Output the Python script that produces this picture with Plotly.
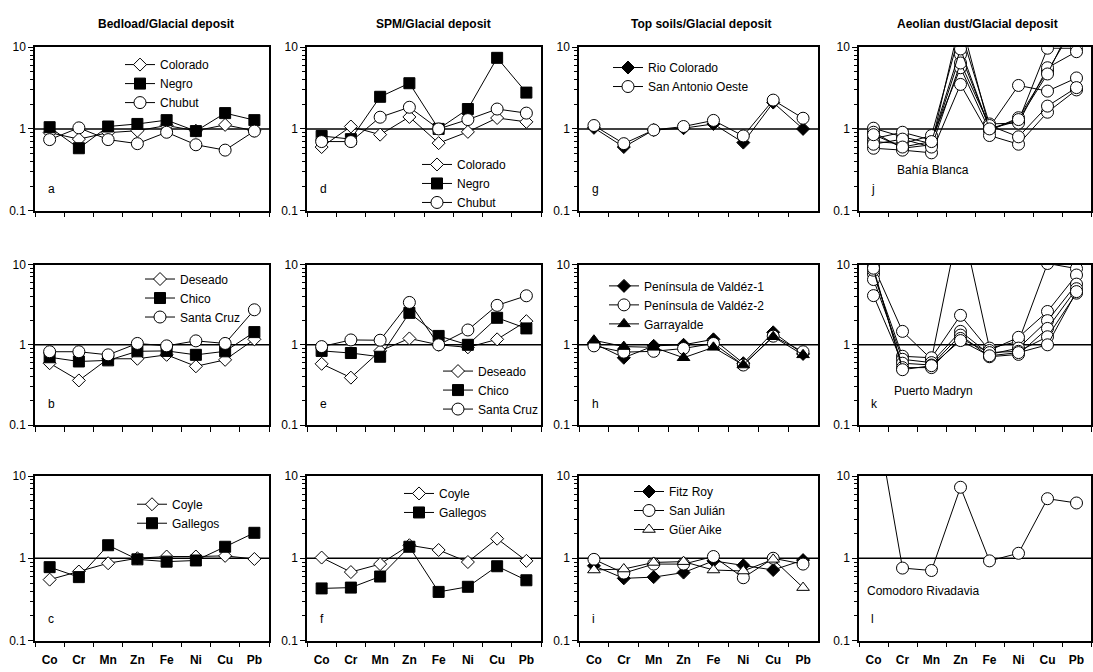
import plotly.graph_objects as go

W, H = 1093, 672
FONT = "Liberation Sans, Arial, sans-serif"

elements = ["Co", "Cr", "Mn", "Zn", "Fe", "Ni", "Cu", "Pb"]

# Bedload / glacial deposit
bed_colorado = [0.90, 0.75, 0.90, 0.95, 1.10, 0.95, 1.12, 0.95]
bed_negro = [1.05, 0.58, 1.07, 1.15, 1.28, 0.94, 1.56, 1.28]
bed_chubut = [0.74, 1.03, 0.74, 0.66, 0.91, 0.64, 0.55, 0.94]
bed_deseado = [0.59, 0.36, 0.67, 0.67, 0.75, 0.54, 0.65, 1.17]
bed_chico = [0.70, 0.62, 0.64, 0.83, 0.84, 0.75, 0.83, 1.44]
bed_santacruz = [0.82, 0.82, 0.75, 1.04, 0.97, 1.12, 1.04, 2.73]
bed_coyle = [0.55, 0.69, 0.87, 1.00, 1.05, 1.05, 1.07, 0.98]
bed_gallegos = [0.78, 0.59, 1.44, 0.97, 0.91, 0.94, 1.38, 2.04]

# SPM / glacial deposit
spm_colorado = [0.60, 1.07, 0.85, 1.40, 0.67, 0.92, 1.36, 1.22]
spm_negro = [0.82, 0.75, 2.47, 3.62, 1.00, 1.75, 7.40, 2.78]
spm_chubut = [0.70, 0.70, 1.39, 1.84, 1.00, 1.30, 1.75, 1.56]
spm_deseado = [0.58, 0.39, 0.84, 1.20, 1.00, 0.93, 1.17, 1.97]
spm_chico = [0.84, 0.79, 0.71, 2.50, 1.29, 1.00, 2.17, 1.60]
spm_santacruz = [0.95, 1.15, 1.14, 3.37, 1.00, 1.53, 3.10, 4.08]
spm_coyle = [1.02, 0.68, 0.85, 1.44, 1.26, 0.90, 1.73, 0.93]
spm_gallegos = [0.43, 0.44, 0.60, 1.38, 0.39, 0.45, 0.80, 0.54]

# Top soils / glacial deposit
soil_riocolorado = [1.03, 0.60, 0.97, 1.02, 1.15, 0.68, 2.10, 1.00]
soil_sanantonio = [1.10, 0.66, 0.97, 1.07, 1.27, 0.82, 2.25, 1.35]
soil_valdez1 = [1.04, 0.69, 0.97, 1.00, 1.17, 0.59, 1.43, 0.77]
soil_valdez2 = [0.97, 0.81, 0.83, 0.90, 1.04, 0.56, 1.28, 0.82]
soil_garrayalde = [1.14, 0.95, 0.93, 0.69, 0.93, 0.56, 1.26, 0.75]
soil_fitzroy = [0.81, 0.57, 0.59, 0.67, 0.93, 0.82, 0.72, 0.95]
soil_sanjulian = [0.97, 0.66, 0.85, 0.85, 1.05, 0.58, 1.00, 0.85]
soil_gueraike = [0.72, 0.74, 0.89, 0.91, 0.72, 0.70, 0.97, 0.44]

# Aeolian dust / glacial deposit (one list per dust sample)
bahia_blanca = [
    [1.02, 0.80, 0.66, 8.1, 1.05, 3.4, 2.9, 4.2],
    [0.91, 0.58, 0.64, 22.0, 1.00, 1.25, 9.7, 9.7],
    [0.76, 0.91, 0.73, 5.6, 0.95, 1.37, 5.1, 20.0],
    [0.70, 0.66, 0.83, 16.0, 1.15, 1.18, 5.6, 8.8],
    [0.58, 0.55, 0.51, 3.5, 0.83, 0.65, 1.6, 3.0],
    [0.65, 0.75, 0.60, 6.4, 1.10, 0.80, 1.9, 3.2],
    [0.85, 0.60, 0.70, 9.5, 1.00, 1.30, 4.7, 25.0],
]
puerto_madryn = [
    [9.5, 1.47, 0.66, 40.0, 0.91, 1.10, 10.3, 8.9],
    [7.6, 0.72, 0.69, 2.33, 0.85, 1.24, 2.6, 7.4],
    [6.5, 0.66, 0.60, 1.47, 0.76, 0.91, 2.0, 5.7],
    [4.1, 0.59, 0.56, 1.32, 0.71, 0.76, 1.6, 5.0],
    [8.5, 0.52, 0.52, 1.20, 0.80, 0.83, 1.26, 4.4],
    [9.0, 0.49, 0.55, 1.13, 0.73, 0.80, 1.0, 4.6],
]
comodoro_rivadavia = [80.0, 0.76, 0.71, 7.3, 0.93, 1.15, 5.3, 4.7]

column_titles = ["Bedload/Glacial deposit", "SPM/Glacial deposit",
                 "Top soils/Glacial deposit", "Aeolian dust/Glacial deposit"]

# marker styles
OPEN_DIAMOND = dict(symbol="diamond", size=10, color="white", line=dict(color="black", width=1))
FILL_DIAMOND = dict(symbol="diamond", size=10, color="black", line=dict(color="black", width=1))
FILL_SQUARE = dict(symbol="square", size=11, color="black", line=dict(color="black", width=1))
OPEN_CIRCLE = dict(symbol="circle", size=12, color="white", line=dict(color="black", width=1))
FILL_TRI = dict(symbol="triangle-up", size=11, color="black", line=dict(color="black", width=1))
OPEN_TRI = dict(symbol="triangle-up", size=11, color="white", line=dict(color="black", width=1))

# pixel boxes of plotting areas
col_px = [(35, 269), (307, 541), (579, 818), (859, 1091)]
row_px = [(41, 208), (263, 427), (479, 647)]

panels = [
    # letter, col, row, series [(name, values, marker)], legend (text-left px, top px)
    ("a", 0, 0, [("Colorado", bed_colorado, OPEN_DIAMOND), ("Negro", bed_negro, FILL_SQUARE),
                 ("Chubut", bed_chubut, OPEN_CIRCLE)], (160, 44)),
    ("b", 0, 1, [("Deseado", bed_deseado, OPEN_DIAMOND), ("Chico", bed_chico, FILL_SQUARE),
                 ("Santa Cruz", bed_santacruz, OPEN_CIRCLE)], (180, 263)),
    ("c", 0, 2, [("Coyle", bed_coyle, OPEN_DIAMOND), ("Gallegos", bed_gallegos, FILL_SQUARE)], (172, 493)),
    ("d", 1, 0, [("Colorado", spm_colorado, OPEN_DIAMOND), ("Negro", spm_negro, FILL_SQUARE),
                 ("Chubut", spm_chubut, OPEN_CIRCLE)], (457, 146)),
    ("e", 1, 1, [("Deseado", spm_deseado, OPEN_DIAMOND), ("Chico", spm_chico, FILL_SQUARE),
                 ("Santa Cruz", spm_santacruz, OPEN_CIRCLE)], (478, 357)),
    ("f", 1, 2, [("Coyle", spm_coyle, OPEN_DIAMOND), ("Gallegos", spm_gallegos, FILL_SQUARE)], (439, 482)),
    ("g", 2, 0, [("Rio Colorado", soil_riocolorado, FILL_DIAMOND),
                 ("San Antonio Oeste", soil_sanantonio, OPEN_CIRCLE)], (648, 47)),
    ("h", 2, 1, [("Península de Valdéz-1", soil_valdez1, FILL_DIAMOND),
                 ("Península de Valdéz-2", soil_valdez2, OPEN_CIRCLE),
                 ("Garrayalde", soil_garrayalde, FILL_TRI)], (644, 270)),
    ("i", 2, 2, [("Fitz Roy", soil_fitzroy, FILL_DIAMOND), ("San Julián", soil_sanjulian, OPEN_CIRCLE),
                 ("Güer Aike", soil_gueraike, OPEN_TRI)], (669, 480)),
    ("j", 3, 0, [(None, s, OPEN_CIRCLE) for s in bahia_blanca], None),
    ("k", 3, 1, [(None, s, OPEN_CIRCLE) for s in puerto_madryn], None),
    ("l", 3, 2, [(None, comodoro_rivadavia, OPEN_CIRCLE)], None),
]

site_labels = {"j": ("Bahía Blanca", 895, 166), "k": ("Puerto Madryn", 892, 392),
               "l": ("Comodoro Rivadavia", 865, 596)}

fig = go.Figure()
layout = dict(width=W, height=H, margin=dict(l=0, r=0, t=0, b=0),
              paper_bgcolor="white", plot_bgcolor="white",
              font=dict(family=FONT, size=12, color="black"))
annotations = []
shapes = []

minor_vals = [v * m for m in (0.1, 1) for v in range(2, 10)]

legend_count = 0
for idx, (letter, c, r, series, leg) in enumerate(panels, start=1):
    xa = "xaxis" if idx == 1 else f"xaxis{idx}"
    ya = "yaxis" if idx == 1 else f"yaxis{idx}"
    xr = "x" if idx == 1 else f"x{idx}"
    yr = "y" if idx == 1 else f"y{idx}"
    x0, x1 = col_px[c]
    y0, y1 = row_px[r]
    layout[xa] = dict(domain=[x0 / W, x1 / W], anchor=yr, type="category",
                      categoryorder="array", categoryarray=elements,
                      range=[-0.5, 7.5], tickson="boundaries", ticks="outside",
                      ticklen=5, tickwidth=1, tickcolor="black",
                      showline=True, linecolor="black", linewidth=1.5, mirror=True,
                      showgrid=False, zeroline=False,
                      showticklabels=(r == 2), ticklabelstandoff=7,
                      tickfont=dict(family=FONT, size=12, weight="bold"))
    layout[ya] = dict(domain=[1 - y1 / H, 1 - y0 / H], anchor=xr, type="log",
                      range=[-1, 1], tickvals=[0.1, 1, 10], ticktext=["0.1", "1", "10"],
                      ticks="outside", ticklen=5, tickwidth=1, tickcolor="black",
                      minor=dict(tickvals=minor_vals, ticks="outside", ticklen=3,
                                 tickwidth=1, tickcolor="black", showgrid=False),
                      showline=True, linecolor="black", linewidth=1.5, mirror=True,
                      showgrid=False, zeroline=False,
                      tickfont=dict(family=FONT, size=12))

    legend_name = None
    if leg is not None:
        legend_count += 1
        legend_name = "legend" if legend_count == 1 else f"legend{legend_count}"
        tx, top = leg
        layout[legend_name] = dict(x=(tx - 40) / W, y=1 - top / H, xanchor="left", yanchor="top",
                                   bgcolor="rgba(0,0,0,0)", borderwidth=0,
                                   font=dict(family=FONT, size=12, color="black"),
                                   itemwidth=30, tracegroupgap=0)

    for name, vals, marker in series:
        trace = go.Scatter(x=elements, y=vals, mode="lines+markers",
                           line=dict(color="black", width=1), marker=marker,
                           xaxis=xr, yaxis=yr, cliponaxis=True,
                           name=name if name else "", showlegend=name is not None)
        if name is not None:
            trace.legend = legend_name
        fig.add_trace(trace)

    # reference level at 1
    shapes.append(dict(type="line", xref=f"{xr} domain", yref=yr, x0=0, x1=1, y0=1, y1=1,
                       line=dict(color="black", width=1.5), layer="below"))

    # panel letter
    annotations.append(dict(text=letter, xref=f"{xr} domain", yref=f"{yr} domain",
                            x=0.045, y=0.13, xanchor="left", yanchor="middle",
                            showarrow=False, font=dict(family=FONT, size=12)))

    if letter in site_labels:
        txt, lx, ly = site_labels[letter]
        annotations.append(dict(text=txt, xref="paper", yref="paper", x=lx / W, y=1 - ly / H,
                                xanchor="left", yanchor="middle", showarrow=False,
                                font=dict(family=FONT, size=12)))

title_x = [166, 433, 701, 977]
for t, tx in zip(column_titles, title_x):
    annotations.append(dict(text=f"<b>{t}</b>", xref="paper", yref="paper", x=tx / W, y=1 - 17 / H,
                            xanchor="center", yanchor="middle", showarrow=False,
                            font=dict(family=FONT, size=12)))

layout["annotations"] = annotations
layout["shapes"] = shapes
fig.update_layout(**layout)
fig.write_html("out.html")
